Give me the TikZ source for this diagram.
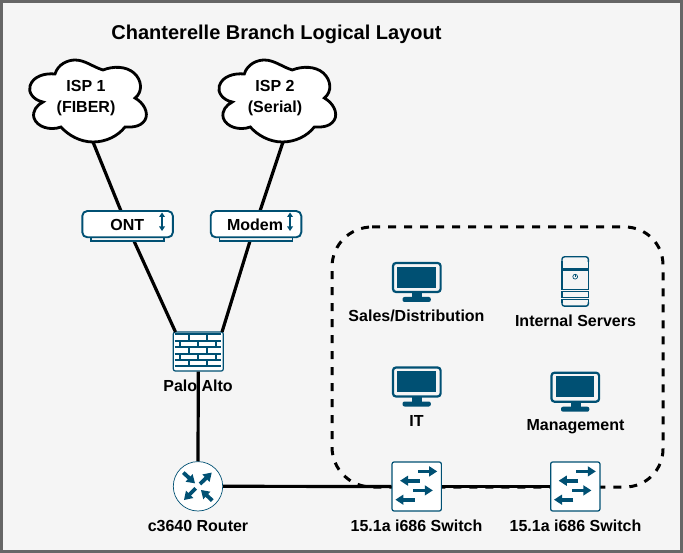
\documentclass[tikz,border=0pt]{standalone}
\usepackage{fontspec}
\setmainfont{Liberation Sans}
\usetikzlibrary{calc}
\definecolor{ciscoblue}{HTML}{005073}
\definecolor{pagebg}{HTML}{F5F5F5}
\definecolor{frameg}{HTML}{666666}
\newcommand{\tarrow}[4]{%
  \path (#1,#2) coordinate (ta) (#3,#4) coordinate (tb);%
  \draw[ciscoblue,line width=3.8pt] (ta) -- ($(tb)!6pt!(ta)$);%
  \fill[ciscoblue] (tb) -- ($(tb)!8pt!(ta)!5.2pt!90:(ta)$) -- ($(tb)!8pt!(ta)!5.2pt!-90:(ta)$) -- cycle;%
}
\tikzset{
  x=1pt,y=-1pt,
  link/.style={line width=3.2pt,black},
  lbl/.style={font=\bfseries\fontsize{16}{19}\selectfont,text=black,inner sep=0pt,align=center},
  iconbox/.style={draw=ciscoblue,fill=white,inner sep=0pt,rounded corners=2pt,line width=1.2pt},
  pics/monitor/.style={code={
    \draw[ciscoblue,line width=2.2pt,rounded corners=3pt,fill=pagebg] (1,1) rectangle (48.6,30);
    \fill[ciscoblue] (5.2,4.6) rectangle (43.8,25.7);
    \fill[ciscoblue] (20,30) rectangle (30,36);
    \fill[ciscoblue,rounded corners=2pt] (10.5,35) rectangle (38.8,40);
  }},
  pics/swarrows/.style={code={
    \tarrow{26.3}{10}{45.7}{10}
    \tarrow{28.3}{19.3}{8.7}{19.3}
    \tarrow{22}{29}{41.3}{29}
    \tarrow{23.3}{38.3}{4}{38.3}
  }},
}
\newcommand{\cloudpath}{%
  (55,74) .. controls (58,64) and (68,60) .. (75,60)
  .. controls (85,60) and (93,67) .. (103,70)
  .. controls (113,66) and (126,66) .. (134,73)
  .. controls (142,80) and (143,92) .. (135,98)
  .. controls (144,103) and (149,113) .. (145,120)
  .. controls (140,128) and (130,127) .. (125,127)
  .. controls (118,136) and (106,142) .. (93,142)
  .. controls (80,142) and (68,135) .. (61,127)
  .. controls (50,131) and (37,127) .. (34,118)
  .. controls (32,111) and (37,105) .. (43,102)
  .. controls (33,100) and (28,92) .. (30,86)
  .. controls (33,76) and (45,73) .. (55,74) -- cycle}
\begin{document}
\begin{tikzpicture}
\useasboundingbox (0,0) rectangle (683,553);
\fill[frameg] (0,0) rectangle (683,553);
\fill[pagebg] (3,3) rectangle (680,550);

\node[lbl,font=\bfseries\fontsize{20}{24}\selectfont] (title) at (276.5,34.5) {Chanterelle Branch Logical Layout};

% dashed boundary
\draw[black,line width=3pt,dash pattern=on 8pt off 8pt] (372,227) -- (625,227)
  arc[start angle=-90,end angle=0,radius=38] -- (663,449)
  arc[start angle=0,end angle=90,radius=38] -- (372,487)
  arc[start angle=90,end angle=180,radius=40] -- (332,267)
  arc[start angle=180,end angle=270,radius=40];

% icon nodes
\node[minimum width=118,minimum height=82,inner sep=0pt] (isp1) at (88,101) {};
\node[minimum width=118,minimum height=82,inner sep=0pt] (isp2) at (277.3,101) {};
\node[minimum width=90.7,minimum height=30.3,inner sep=0pt] (ont) at (127.6,226.2) {};
\node[minimum width=90.7,minimum height=30.3,inner sep=0pt] (modem) at (256,226.2) {};
\node[iconbox,minimum width=50,minimum height=39] (fw) at (198.3,351.5) {};
\node[circle,draw=ciscoblue,fill=white,line width=0.7pt,minimum size=49.4,inner sep=0pt] (router) at (198,486.3) {};
\node[iconbox,minimum width=49.3,minimum height=49] (sw1) at (416.7,486.5) {};
\node[iconbox,minimum width=49.3,minimum height=49] (sw2) at (575.3,486.5) {};

% links
\coordinate (c1) at (93,142); \coordinate (c2) at (121,211);
\coordinate (c3) at (283,142); \coordinate (c4) at (260,211);
\coordinate (o1) at (134,241); \coordinate (f1) at (175.5,332);
\coordinate (m1) at (250,241); \coordinate (f2) at (222,332);
\draw[link] (c1) -- (c2);
\draw[link] (c3) -- (c4);
\draw[link] (o1) -- (f1);
\draw[link] (m1) -- (f2);
\node[lbl] (fwl) at (198,386) {Palo Alto};
\draw[link] (fw.south) -- (router.north);
\draw[link] (router.east) -- (sw1.west);
\draw[link] (sw1.east) -- (sw2.west);

% clouds
\draw[black,line width=2.8pt,fill=white] \cloudpath;
\begin{scope}[xshift=189.3pt]
\draw[black,line width=2.8pt,fill=white] \cloudpath;
\end{scope}
\node[lbl] at (86,98.5) {ISP 1\\[2pt](FIBER)};
\node[lbl] at (275,98.5) {ISP 2\\[2pt](Serial)};

% ONT and modem
\foreach \n/\cx in {ont/127.6,modem/256}{
  \draw[ciscoblue,line width=1.7pt,fill=pagebg] (\cx-36.4,236) rectangle (\cx+36.4,241.3);
  \draw[ciscoblue,line width=1.9pt,fill=white,rounded corners=5pt] (\cx-45.3,211) rectangle (\cx+45.3,237.3);
}
\node[lbl] (onttext) at (127.3,225) {ONT};
\node[lbl] (modemtext) at (255,225) {Modem};
\foreach \ax in {162,290}{
  \draw[ciscoblue,line width=2pt] (\ax,214) -- (\ax,228);
  \fill[ciscoblue] (\ax,212.5) -- (\ax+3,217) -- (\ax-3,217) -- cycle;
  \fill[ciscoblue] (\ax,231) -- (\ax+3,226.5) -- (\ax-3,226.5) -- cycle;
}

% firewall
\begin{scope}[shift={(fw.north west)}]
  \draw[ciscoblue,line width=1.9pt] (2,3) -- (48,3) (2,9.3) -- (48,9.3) (2,15.7) -- (48,15.7) (2,22.3) -- (48,22.3) (2,28.7) -- (48,28.7) (2,34.7) -- (48,34.7);
  \draw[ciscoblue,line width=1.9pt]
   (16,3)--(16,9.3) (34.7,3)--(34.7,9.3)
   (7.3,9.3)--(7.3,15.7) (25,9.3)--(25,15.7) (43,9.3)--(43,15.7)
   (16,15.7)--(16,22.3) (34.7,15.7)--(34.7,22.3)
   (7.3,22.3)--(7.3,28.7) (25,22.3)--(25,28.7) (43,22.3)--(43,28.7)
   (16,28.7)--(16,34.7) (34.7,28.7)--(34.7,34.7);
\end{scope}

% router arrows
\begin{scope}[shift={(router.center)}]
  \tarrow{-14.7}{-13.7}{-3}{-3}
  \tarrow{2}{-2.3}{13.7}{-13.7}
  \tarrow{-2.3}{2}{-14}{13.7}
  \tarrow{14.3}{14.3}{3}{3.7}
\end{scope}
\node[lbl] (rl) at (198,526) {c3640 Router};

% switches
\pic at (sw1.north west) {swarrows};
\pic at (sw2.north west) {swarrows};
\node[lbl] (s1l) at (416.5,526) {15.1a i686 Switch};
\node[lbl] (s2l) at (575.5,526) {15.1a i686 Switch};

% monitors
\pic at (392,262) {monitor};
\pic at (392,366.5) {monitor};
\pic at (550.5,371.7) {monitor};
\node[lbl] (sl) at (416.5,316) {Sales/Distribution};
\node[lbl] (itl) at (416.5,421) {IT};
\node[lbl] (ml) at (575.5,427) {Management};

% server
\draw[ciscoblue,line width=1.4pt,rounded corners=2.5pt] (562,262) -- (562,256.8) -- (588.4,256.8) -- (588.4,262);
\draw[ciscoblue,line width=1.4pt] (562,261.5) -- (562,268.6) -- (588.4,268.6) -- (588.4,261.5);
\draw[ciscoblue,line width=1.4pt] (562,270) rectangle (588.4,289.3);
\draw[ciscoblue,line width=1.4pt] (562,291.7) rectangle (588.4,297.6);
\draw[ciscoblue,line width=1.4pt] (562,303) -- (562,299.5) -- (588.4,299.5) -- (588.4,303);
\draw[ciscoblue,line width=1.4pt,rounded corners=2.5pt] (562,302.5) -- (562,306.2) -- (588.4,306.2) -- (588.4,302.5);
\draw[ciscoblue,line width=0.7pt] (575.2,276.7) circle[radius=2.4];
\draw[ciscoblue,line width=0.7pt] (575.2,274.5) -- (575.2,277);
\node[lbl] (srvl) at (575.5,321) {Internal Servers};
\end{tikzpicture}
\end{document}
